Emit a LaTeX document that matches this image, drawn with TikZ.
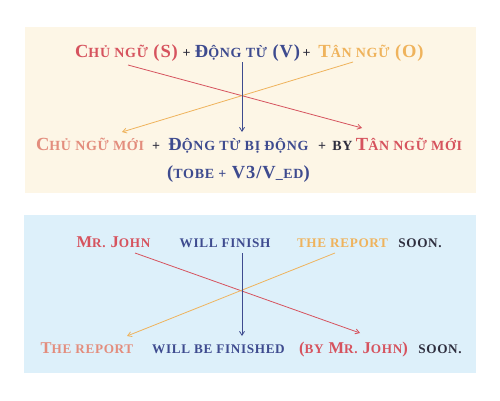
\documentclass[tikz,border=0pt]{standalone}
\usepackage{fontspec}
\setmainfont{Liberation Serif}[LetterSpace=5]
\usetikzlibrary{arrows.meta}
\definecolor{cream}{HTML}{FDF6E6}
\definecolor{skyb}{HTML}{DDF0FA}
\definecolor{redc}{HTML}{D6535E}
\definecolor{salmon}{HTML}{E38D7D}
\definecolor{bluec}{HTML}{3E4B8F}
\definecolor{orangec}{HTML}{EFB35C}
\definecolor{darkc}{HTML}{2E2E3E}
\newcommand\ts[1]{{\fontsize{14}{15}\selectfont #1}}
\newcommand\bs[1]{{\fontsize{13.2}{14}\selectfont #1}}
\tikzset{
  topt/.style={anchor=base, inner sep=0pt, font=\bfseries\fontsize{18.5}{20}\selectfont},
  bott/.style={anchor=base, inner sep=0pt, font=\bfseries\fontsize{16.5}{17}\selectfont},
  arr/.style={line width=0.8pt, -{Straight Barb[length=4pt,width=5pt]}},
}
\begin{document}
\begin{tikzpicture}[x=1pt,y=-1pt]
\useasboundingbox (0,0) rectangle (500,400);
\fill[white] (0,0) rectangle (500,400);
\fill[cream] (25,27) rectangle (476,193);
\fill[skyb] (24,215) rectangle (476,373);
% top section
\node[topt, text=redc] (s) at (126.5,57) {C\ts{HỦ NGỮ} (S)};
\node[topt, text=darkc] (p1) at (186.5,57) {\ts{+}};
\node[topt, text=bluec] (v) at (247.5,57) {Đ\ts{ỘNG TỪ} (V)};
\node[topt, text=darkc] (p2) at (306.5,57) {\ts{+}};
\node[topt, text=orangec] (o) at (371,57) {T\ts{ÂN NGỮ} (O)};
\node[topt, text=salmon] (ns) at (90,150.5) {C\ts{HỦ NGỮ MỚI}};
\node[topt, text=darkc] (p3) at (156,150.5) {\ts{+}};
\node[topt, text=bluec] (pv) at (238.5,150.5) {Đ\ts{ỘNG TỪ BỊ ĐỘNG}};
\node[topt, text=darkc] (p4) at (322,150.5) {\ts{+}};
\node[topt, text=darkc] (by) at (342.5,150.5) {\ts{BY}};
\node[topt, text=redc] (no) at (409,150.5) {T\ts{ÂN NGỮ MỚI}};
\node[topt, text=bluec] (form) at (238.5,178) {(\ts{TOBE +} V3/V\ts{\_ED})};
\coordinate (a1) at (128,65);
\coordinate (a2) at (362,128);
\coordinate (b1) at (353,62);
\coordinate (b2) at (122,132);
\coordinate (c1) at (242,62);
\coordinate (c2) at (242,132);
\draw[arr, draw=redc] (a1) -- (a2);
\draw[arr, draw=orangec] (b1) -- (b2);
\draw[arr, draw=bluec] (c1) -- (c2);
% bottom section
\node[bott, text=redc] (mj) at (113.5,247) {M\bs{R.} J\bs{OHN}};
\node[bott, text=bluec] (wf) at (225,247) {\bs{WILL FINISH}};
\node[bott, text=orangec] (tr) at (342.5,247) {\bs{THE REPORT}};
\node[bott, text=darkc] (sn) at (420,247) {\bs{SOON.}};
\node[bott, text=salmon] (tr2) at (87,353) {T\bs{HE REPORT}};
\node[bott, text=bluec] (wbf) at (218.5,353) {\bs{WILL BE FINISHED}};
\node[bott, text=redc] (bmj) at (353.5,353) {(\bs{BY} M\bs{R.} J\bs{OHN})};
\node[bott, text=darkc] (sn2) at (440,353) {\bs{SOON.}};
\coordinate (d1) at (135,253);
\coordinate (d2) at (360,333);
\coordinate (e1) at (335,253);
\coordinate (e2) at (127,336);
\coordinate (f1) at (242,253);
\coordinate (f2) at (242,336);
\draw[arr, draw=redc] (d1) -- (d2);
\draw[arr, draw=orangec] (e1) -- (e2);
\draw[arr, draw=bluec] (f1) -- (f2);
\end{tikzpicture}
\end{document}
